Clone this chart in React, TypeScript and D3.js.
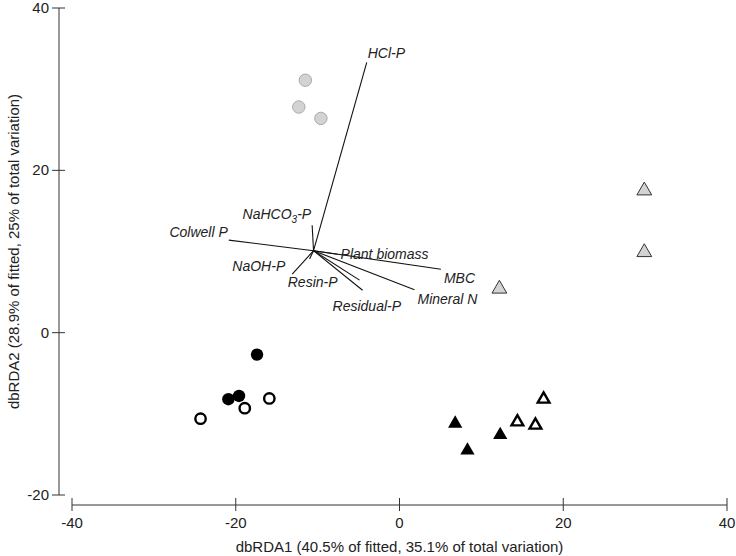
import React from "react";
import * as d3 from "d3";

// ---- Data ----
const xTicks = [-40, -20, 0, 20, 40];
const yTicks = [-20, 0, 20, 40];

const greyCircles: [number, number][] = [
  [-11.5, 31.1],
  [-12.3, 27.8],
  [-9.6, 26.4],
];
const blackCircles: [number, number][] = [
  [-17.4, -2.7],
  [-20.9, -8.2],
  [-19.6, -7.8],
];
const openCircles: [number, number][] = [
  [-18.9, -9.3],
  [-15.9, -8.1],
  [-24.3, -10.6],
];
const greyTriangles: [number, number][] = [
  [29.9, 17.5],
  [29.9, 9.9],
  [12.2, 5.4],
];
const blackTriangles: [number, number][] = [
  [6.8, -11.2],
  [8.3, -14.5],
  [12.3, -12.6],
];
const openTriangles: [number, number][] = [
  [14.4, -11.0],
  [16.6, -11.4],
  [17.6, -8.2],
];

const vectorOrigin: [number, number] = [-10.5, 10.1];
const vectorNames = [
  "HCl-P",
  "Colwell P",
  "NaHCO3-P",
  "NaOH-P",
  "",
  "Resin-P",
  "Residual-P",
  "Plant biomass",
  "MBC",
  "Mineral N",
];
const vectorEnds: [number, number][] = [
  [-4.0, 33.3],
  [-20.85, 11.4],
  [-10.67, 13.24],
  [-13.1, 7.2],
  [-10.98, 9.08],
  [-4.88, 6.47],
  [-4.51, 5.23],
  [-7.56, 9.67],
  [5.06, 7.82],
  [1.83, 5.3],
];

// label placement (layout only): dx, dy offsets in px from vector end, anchor
const labelLayout: { dx: number; dy: number; anchor: string }[] = [
  { dx: 1, dy: -4, anchor: "start" },
  { dx: -1, dy: -3, anchor: "end" },
  { dx: -1, dy: -6, anchor: "end" },
  { dx: -7, dy: -3, anchor: "end" },
  { dx: 0, dy: 0, anchor: "start" },
  { dx: -22, dy: 7, anchor: "end" },
  { dx: -30, dy: 21, anchor: "start" },
  { dx: 3, dy: 5, anchor: "start" },
  { dx: 3, dy: 14, anchor: "start" },
  { dx: 3, dy: 14, anchor: "start" },
];

const W = 736;
const H = 556;
const FONT = "'Liberation Sans', Arial, Helvetica, sans-serif";

export default function App() {
  const x = d3.scaleLinear().domain([-40, 40]).range([72, 727]);
  const y = d3.scaleLinear().domain([-20, 40]).range([495, 8]);
  const axisColor = "#333";
  const textColor = "#222";

  const tri = (size: number) => d3.symbol().type(d3.symbolTriangle).size(size)()!;

  const ox = x(vectorOrigin[0]);
  const oy = y(vectorOrigin[1]);

  const renderLabel = (name: string, i: number) => {
    if (!name) return null;
    const [ex, ey] = vectorEnds[i];
    const l = labelLayout[i];
    const props = {
      x: x(ex) + l.dx,
      y: y(ey) + l.dy,
      textAnchor: l.anchor as any,
      fontSize: 14,
      fontStyle: "italic",
      fill: textColor,
      fontFamily: FONT,
    };
    if (name === "NaHCO3-P") {
      return (
        <text key={"l" + i} {...props}>
          NaHCO
          <tspan fontSize={10} dy={4}>3</tspan>
          <tspan dy={-4}>-P</tspan>
        </text>
      );
    }
    return (
      <text key={"l" + i} {...props}>
        {name}
      </text>
    );
  };

  const xAxisY = 505;
  const yAxisX = 59;

  return (
    <svg
      width={W}
      height={H}
      style={{ position: "absolute", left: 0, top: 0, background: "#fff" }}
    >
      <rect width={W} height={H} fill="#fff" />
      {/* y axis */}
      <line x1={yAxisX} x2={yAxisX} y1={y(40)} y2={y(-20)} stroke={axisColor} strokeWidth={1} />
      {yTicks.map((t) => (
        <g key={"yt" + t}>
          <line x1={yAxisX - 7} x2={yAxisX + 6} y1={y(t)} y2={y(t)} stroke={axisColor} />
          <text
            x={yAxisX - 10}
            y={y(t) + 5}
            textAnchor="end"
            fontSize={15}
            fill={textColor}
            fontFamily={FONT}
          >
            {t}
          </text>
        </g>
      ))}
      <text
        transform={`translate(19, ${(y(40) + y(-20)) / 2}) rotate(-90)`}
        textAnchor="middle"
        fontSize={15}
        fill={textColor}
        fontFamily={FONT}
      >
        dbRDA2 (28.9% of fitted, 25% of total variation)
      </text>

      {/* x axis */}
      <line x1={x(-40)} x2={x(40)} y1={xAxisY} y2={xAxisY} stroke={axisColor} strokeWidth={1} />
      {xTicks.map((t) => (
        <g key={"xt" + t}>
          <line x1={x(t)} x2={x(t)} y1={xAxisY - 7} y2={xAxisY + 6} stroke={axisColor} />
          <text
            x={x(t)}
            y={xAxisY + 23}
            textAnchor="middle"
            fontSize={15}
            fill={textColor}
            fontFamily={FONT}
          >
            {t}
          </text>
        </g>
      ))}
      <text
        x={x(0)}
        y={552}
        textAnchor="middle"
        fontSize={15}
        fill={textColor}
        fontFamily={FONT}
      >
        dbRDA1 (40.5% of fitted, 35.1% of total variation)
      </text>

      {/* vectors */}
      {vectorEnds.map((e, i) => (
        <line
          key={"v" + i}
          x1={ox}
          y1={oy}
          x2={x(e[0])}
          y2={y(e[1])}
          stroke="#111"
          strokeWidth={1.1}
        />
      ))}
      {vectorNames.map((n, i) => renderLabel(n, i))}

      {/* points */}
      {greyCircles.map((p, i) => (
        <circle key={"gc" + i} cx={x(p[0])} cy={y(p[1])} r={6.2} fill="#d3d3d3" stroke="#aaa" strokeWidth={1} />
      ))}
      {blackCircles.map((p, i) => (
        <circle key={"bc" + i} cx={x(p[0])} cy={y(p[1])} r={6.2} fill="#000" />
      ))}
      {openCircles.map((p, i) => (
        <circle key={"oc" + i} cx={x(p[0])} cy={y(p[1])} r={5.2} fill="#fff" stroke="#000" strokeWidth={2.4} />
      ))}
      {greyTriangles.map((p, i) => (
        <path
          key={"gt" + i}
          d={tri(95)}
          transform={`translate(${x(p[0])},${y(p[1])})`}
          fill="#d3d3d3"
          stroke="#333"
          strokeWidth={1}
        />
      ))}
      {blackTriangles.map((p, i) => (
        <path
          key={"bt" + i}
          d={tri(88)}
          transform={`translate(${x(p[0])},${y(p[1])})`}
          fill="#000"
        />
      ))}
      {openTriangles.map((p, i) => (
        <path
          key={"ot" + i}
          d={tri(60)}
          transform={`translate(${x(p[0])},${y(p[1])})`}
          fill="#fff"
          stroke="#000"
          strokeWidth={2.4}
        />
      ))}
    </svg>
  );
}
